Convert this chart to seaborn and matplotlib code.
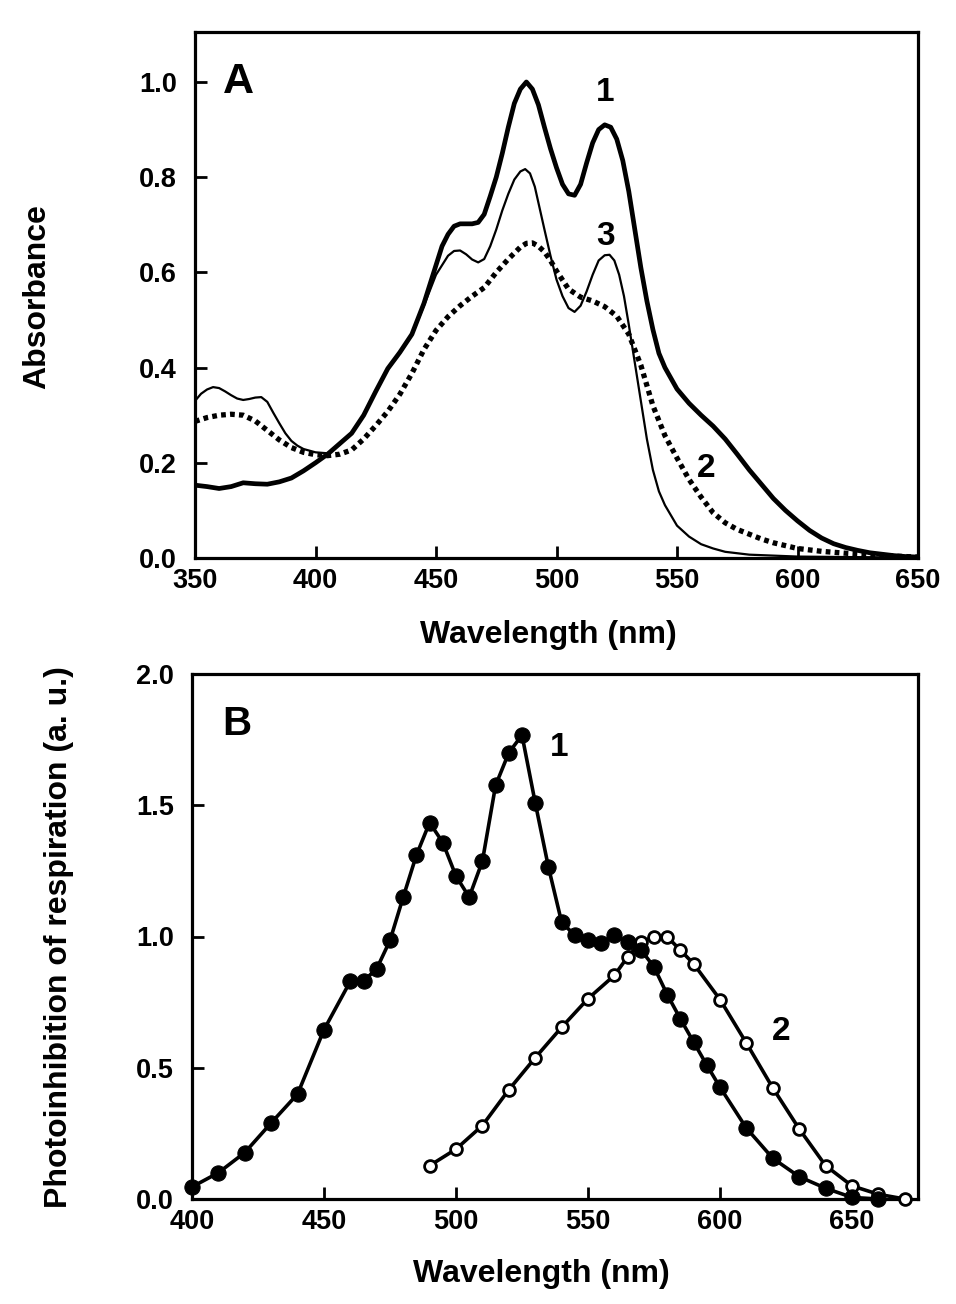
import numpy as np
import pandas as pd
import matplotlib
matplotlib.use("Agg")
import matplotlib.pyplot as plt
import seaborn as sns

# ---------------- Panel A data: absorbance spectra ----------------
wl_a1 = [350, 355, 360, 365, 370, 375, 380, 385, 390, 395, 400, 405, 410, 415, 420, 425, 430, 435,
         440, 445, 450, 452.5, 455, 457.5, 460, 465, 467.5, 470, 472.5, 475, 477.5, 480, 482.5, 485,
         487.5, 490, 492.5, 495, 497.5, 500, 502.5, 505, 507.5, 510, 512.5, 515, 517.5, 520, 522.5,
         525, 527.5, 530, 532.5, 535, 537.5, 540, 542.5, 545, 550, 555, 560, 565, 570, 575, 580,
         585, 590, 595, 600, 605, 610, 615, 620, 625, 630, 635, 640, 645, 650]
abs_a1 = [0.153, 0.150, 0.146, 0.150, 0.158, 0.156, 0.155, 0.160, 0.168, 0.183, 0.200, 0.218, 0.240,
          0.262, 0.300, 0.350, 0.398, 0.432, 0.470, 0.535, 0.615, 0.655, 0.680, 0.697, 0.702, 0.702,
          0.705, 0.722, 0.760, 0.800, 0.850, 0.905, 0.955, 0.985, 1.000, 0.985, 0.952, 0.905, 0.860,
          0.820, 0.785, 0.765, 0.762, 0.785, 0.830, 0.872, 0.900, 0.910, 0.905, 0.880, 0.835, 0.770,
          0.690, 0.610, 0.540, 0.480, 0.430, 0.400, 0.355, 0.325, 0.300, 0.277, 0.250, 0.218, 0.185,
          0.155, 0.125, 0.100, 0.078, 0.058, 0.042, 0.030, 0.022, 0.016, 0.011, 0.008, 0.005, 0.003,
          0.002]

wl_a2 = [350, 355, 360, 365, 370, 375, 380, 385, 390, 395, 400, 405, 410, 415, 420, 425, 430, 435,
         440, 445, 450, 455, 460, 465, 470, 475, 480, 485, 487.5, 490, 492.5, 495, 497.5, 500, 505,
         510, 515, 520, 525, 530, 535, 540, 545, 550, 555, 560, 565, 570, 575, 580, 585, 590, 600,
         610, 620, 630, 640, 650]
abs_a2 = [0.287, 0.295, 0.300, 0.302, 0.300, 0.288, 0.268, 0.248, 0.232, 0.222, 0.217, 0.215, 0.218,
          0.227, 0.250, 0.278, 0.308, 0.344, 0.388, 0.438, 0.478, 0.507, 0.530, 0.550, 0.568, 0.600,
          0.628, 0.653, 0.661, 0.662, 0.655, 0.643, 0.625, 0.603, 0.565, 0.548, 0.540, 0.528, 0.508,
          0.470, 0.405, 0.320, 0.257, 0.210, 0.165, 0.128, 0.095, 0.074, 0.060, 0.050, 0.040, 0.032,
          0.020, 0.014, 0.010, 0.007, 0.004, 0.002]

wl_a3 = [350, 352.5, 355, 357.5, 360, 362.5, 365, 367.5, 370, 372.5, 375, 377.5, 380, 382.5, 385,
         387.5, 390, 392.5, 395, 400, 405, 410, 415, 420, 425, 430, 435, 440, 445, 450, 455, 457.5,
         460, 462.5, 465, 467.5, 470, 472.5, 475, 477.5, 480, 482.5, 485, 487, 489, 491, 493, 495,
         497.5, 500, 502.5, 505, 507.5, 510, 512.5, 515, 517.5, 520, 522, 524, 526, 528, 530, 532.5,
         535, 537.5, 540, 542.5, 545, 550, 555, 560, 565, 570, 575, 580, 590, 600, 620, 650]
abs_a3 = [0.330, 0.345, 0.354, 0.359, 0.357, 0.350, 0.342, 0.335, 0.332, 0.334, 0.337, 0.338, 0.328,
          0.305, 0.283, 0.262, 0.246, 0.236, 0.229, 0.222, 0.220, 0.238, 0.262, 0.300, 0.350, 0.396,
          0.430, 0.468, 0.530, 0.595, 0.635, 0.645, 0.646, 0.638, 0.627, 0.621, 0.628, 0.655, 0.690,
          0.730, 0.765, 0.795, 0.812, 0.817, 0.808, 0.780, 0.735, 0.690, 0.635, 0.585, 0.550, 0.525,
          0.517, 0.530, 0.560, 0.595, 0.625, 0.636, 0.637, 0.625, 0.595, 0.550, 0.490, 0.410, 0.330,
          0.250, 0.185, 0.140, 0.111, 0.068, 0.045, 0.029, 0.020, 0.013, 0.010, 0.007, 0.005, 0.003,
          0.002, 0.001]

# ---------------- Panel B data: action spectra ----------------
wl_b1 = [400, 410, 420, 430, 440, 450, 460, 465, 470, 475, 480, 485, 490, 495, 500, 505, 510, 515,
         520, 525, 530, 535, 540, 545, 550, 555, 560, 565, 570, 575, 580, 585, 590, 595, 600, 610,
         620, 630, 640, 650, 660]
ph_b1 = [0.046, 0.100, 0.177, 0.290, 0.400, 0.645, 0.830, 0.830, 0.878, 0.985, 1.150, 1.310, 1.434,
         1.358, 1.230, 1.150, 1.287, 1.576, 1.700, 1.767, 1.510, 1.265, 1.055, 1.004, 0.988, 0.976,
         1.004, 0.978, 0.950, 0.884, 0.779, 0.686, 0.598, 0.510, 0.426, 0.270, 0.155, 0.085, 0.041,
         0.006, 0.000]

wl_b2 = [490, 500, 510, 520, 530, 540, 550, 560, 565, 570, 575, 580, 585, 590, 600, 610, 620, 630,
         640, 650, 660, 670]
ph_b2 = [0.127, 0.190, 0.280, 0.416, 0.538, 0.654, 0.763, 0.852, 0.922, 0.978, 0.999, 0.999, 0.948,
         0.896, 0.760, 0.594, 0.423, 0.267, 0.127, 0.050, 0.018, 0.000]

# ---------------- style ----------------
sns.set_theme(style="ticks")
plt.rcParams['font.family'] = ['Liberation Sans', 'DejaVu Sans']
plt.rcParams['font.weight'] = 'bold'
plt.rcParams['text.color'] = 'black'
plt.rcParams['axes.labelcolor'] = 'black'
plt.rcParams['xtick.color'] = 'black'
plt.rcParams['ytick.color'] = 'black'

W, H = 956, 1304
fig = plt.figure(figsize=(W / 100, H / 100), dpi=100)

axA = fig.add_axes([195 / W, 1 - 558 / H, (918 - 195) / W, (558 - 32) / H])
axB = fig.add_axes([192 / W, 1 - 1199 / H, (918 - 192) / W, (1199 - 674) / H])

dfA1 = pd.DataFrame({"wl": wl_a1, "a": abs_a1})
dfA2 = pd.DataFrame({"wl": wl_a2, "a": abs_a2})
dfA3 = pd.DataFrame({"wl": wl_a3, "a": abs_a3})

sns.lineplot(data=dfA3, x="wl", y="a", ax=axA, color="black", lw=1.6, sort=False)
sns.lineplot(data=dfA2, x="wl", y="a", ax=axA, color="black", lw=3.8, sort=False,
             linestyle=(0, (0.9, 0.8)))
sns.lineplot(data=dfA1, x="wl", y="a", ax=axA, color="black", lw=3.4, sort=False)
for ln in axA.get_lines():
    ln.set_solid_capstyle('round')
    ln.set_solid_joinstyle('round')
    ln.set_dash_capstyle('butt')

dfB1 = pd.DataFrame({"wl": wl_b1, "p": ph_b1})
dfB2 = pd.DataFrame({"wl": wl_b2, "p": ph_b2})
sns.lineplot(data=dfB2, x="wl", y="p", ax=axB, color="black", lw=2.6, sort=False,
             marker="o", markersize=8.5, markerfacecolor="white", markeredgecolor="black",
             markeredgewidth=2.0, clip_on=False, zorder=3)
sns.lineplot(data=dfB1, x="wl", y="p", ax=axB, color="black", lw=2.6, sort=False,
             marker="o", markersize=11, markerfacecolor="black", markeredgecolor="black",
             clip_on=False, zorder=4)
for ln in axB.get_lines():
    ln.set_solid_joinstyle('round')

axA.set_xlim(350, 650)
axA.set_ylim(0, 1.105)
axA.set_xticks([350, 400, 450, 500, 550, 600, 650])
axA.set_yticks([0.0, 0.2, 0.4, 0.6, 0.8, 1.0])
axA.set_yticklabels(["0.0", "0.2", "0.4", "0.6", "0.8", "1.0"])

axB.set_xlim(400, 675)
axB.set_ylim(0, 2.0)
axB.set_xticks([400, 450, 500, 550, 600, 650])
axB.set_yticks([0.0, 0.5, 1.0, 1.5, 2.0])
axB.set_yticklabels(["0.0", "0.5", "1.0", "1.5", "2.0"])

for ax in (axA, axB):
    for s in ax.spines.values():
        s.set_linewidth(2.3)
        s.set_color("black")
    ax.tick_params(direction='in', length=8.5, width=2.0, colors='black', labelsize=19.5)
    ax.tick_params(axis='y', pad=13)
    ax.tick_params(axis='x', pad=7)
    for lab in ax.get_xticklabels() + ax.get_yticklabels():
        lab.set_fontweight('bold')
        lab.set_color('black')
    ax.set_xlabel("")
    ax.set_ylabel("")
    ax.set_facecolor("white")

# axis titles
fig.text(548 / W, 1 - 635 / H, "Wavelength (nm)", ha='center', va='center', fontsize=23,
         fontweight='bold', color='black')
fig.text(541 / W, 1 - 1274 / H, "Wavelength (nm)", ha='center', va='center', fontsize=23,
         fontweight='bold', color='black')
fig.text(37 / W, 1 - 297 / H, "Absorbance", ha='center', va='center', rotation=90, fontsize=23,
         fontweight='bold', color='black')
fig.text(59 / W, 1 - 937 / H, "Photoinhibition of respiration (a. u.)", ha='center', va='center',
         rotation=90, fontsize=23, fontweight='bold', color='black')

# panel letters
axA.text(0.06, 0.905, "A", transform=axA.transAxes, ha='center', va='center', fontsize=31,
         fontweight='bold', color='black')
axB.text(0.062, 0.905, "B", transform=axB.transAxes, ha='center', va='center', fontsize=29,
         fontweight='bold', color='black')

# curve labels
axA.text(520, 0.977, "1", ha='center', va='center', fontsize=24, fontweight='bold', color='black')
axA.text(520.5, 0.676, "3", ha='center', va='center', fontsize=24, fontweight='bold', color='black')
axA.text(562, 0.188, "2", ha='center', va='center', fontsize=24, fontweight='bold', color='black')
axB.text(539, 1.72, "1", ha='center', va='center', fontsize=24, fontweight='bold', color='black')
axB.text(623, 0.637, "2", ha='center', va='center', fontsize=24, fontweight='bold', color='black')

fig.savefig("out.png", dpi=100, facecolor="white")
